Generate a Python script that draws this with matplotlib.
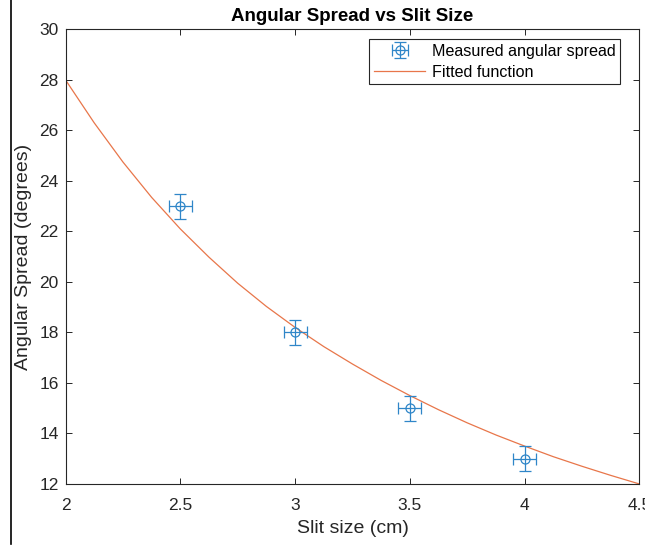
import matplotlib
matplotlib.use('Agg')
import matplotlib.pyplot as plt
from matplotlib.lines import Line2D

plt.rcParams['font.family'] = ['Liberation Sans', 'DejaVu Sans']

# measured data
slit_size = [2.5, 3.0, 3.5, 4.0]
spread = [23, 18, 15, 13]
slit_err = [0.05, 0.05, 0.05, 0.05]
spread_err = [0.5, 0.5, 0.5, 0.5]

# fitted curve
fit_x = [2.0, 2.125, 2.25, 2.375, 2.5, 2.625, 2.75, 2.875, 3.0, 3.125, 3.25,
         3.375, 3.5, 3.625, 3.75, 3.875, 4.0, 4.125, 4.25, 4.375, 4.5]
fit_y = [28.0, 26.3, 24.75, 23.35, 22.1, 20.98, 19.95, 19.03, 18.2, 17.44, 16.75,
         16.1, 15.5, 14.94, 14.42, 13.94, 13.5, 13.08, 12.7, 12.34, 12.0]

blue = '#2f86c8'
orange = '#e8764a'
axcol = (0.15, 0.15, 0.15)

fig = plt.figure(figsize=(6.45, 5.45), dpi=100)
ax = fig.add_axes([0.1016, 0.112, 0.8897, 0.834])

eb = ax.errorbar(slit_size, spread, yerr=spread_err, xerr=slit_err, fmt='o', color=blue,
                 mfc='none', markersize=6.5, capsize=4, elinewidth=0.9, capthick=0.9,
                 markeredgewidth=0.9, zorder=3)
fl, = ax.plot(fit_x, fit_y, color=orange, linewidth=0.9, zorder=2)

ax.set_xlim(2, 4.5)
ax.set_ylim(12, 30)
ax.set_xticks([2, 2.5, 3, 3.5, 4, 4.5])
ax.set_xticklabels(['2', '2.5', '3', '3.5', '4', '4.5'])
ax.set_yticks(range(12, 31, 2))

ax.tick_params(direction='in', top=True, right=True, length=4, width=0.7,
               colors=axcol, labelsize=12.5)
ax.tick_params(axis='x', pad=10)
ax.tick_params(axis='y', pad=5)
for sp in ax.spines.values():
    sp.set_color(axcol)
    sp.set_linewidth(0.8)

ax.set_xlabel('Slit size (cm)', fontsize=14, color=axcol, labelpad=5)
ax.set_ylabel('Angular Spread (degrees)', fontsize=14, color=axcol, labelpad=5)
ax.set_title('Angular Spread vs Slit Size', fontsize=13.5, fontweight='bold', pad=6)

leg = ax.legend([eb, fl], ['Measured angular spread', 'Fitted function'],
                loc='upper right', bbox_to_anchor=(0.9664, 0.979), borderaxespad=0,
                fontsize=11.6, fancybox=False, framealpha=1, edgecolor=axcol,
                handlelength=3.2, handletextpad=0.38, borderpad=0.3, labelspacing=0.36)
leg.get_frame().set_linewidth(0.8)

# black border line at the left edge of the screenshot
fig.add_artist(Line2D([0.0163, 0.0163], [0.002, 1.0], transform=fig.transFigure,
                      color='black', linewidth=1.2))

fig.savefig('out.png', dpi=100)
